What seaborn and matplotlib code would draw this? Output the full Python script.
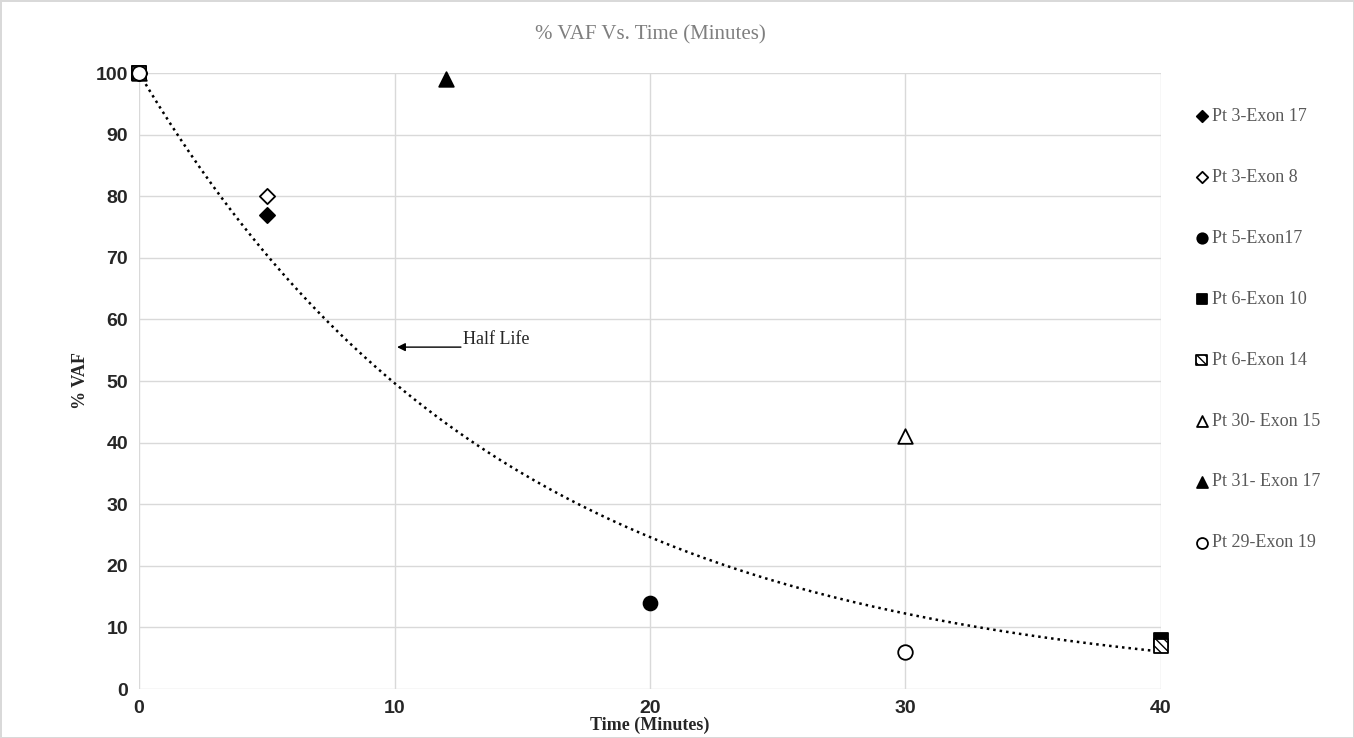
import numpy as np
import pandas as pd
import seaborn as sns
import matplotlib.pyplot as plt

# series
labels = ['Pt 3-Exon 17', 'Pt 3-Exon 8', 'Pt 5-Exon17', 'Pt 6-Exon 10',
          'Pt 6-Exon 14', 'Pt 30- Exon 15', 'Pt 31- Exon 17', 'Pt 29-Exon 19']
times = [[0, 5], [0, 5], [0, 20], [0, 40], [0, 40], [0, 30], [12], [0, 30]]
vaf = [[100, 77], [100, 80], [100, 14], [100, 8], [100, 7], [100, 41], [99], [100, 6]]

# exponential trendline y = a * exp(b * x)
trend_a = 100.0
trend_b = -0.0700

markers = ['D', 'D', 'o', 's', 's', '^', '^', 'o']
faces = ['black', 'white', 'black', 'black', 'white', 'white', 'black', 'white']
sizes = [60, 60, 100, 110, 110, 110, 110, 110]
hatches = [None, None, None, None, '\\\\\\\\', None, None, None]

rows = []
for lab, t, v in zip(labels, times, vaf):
    for ti, vi in zip(t, v):
        rows.append({'series': lab, 'time': ti, 'vaf': vi})
df = pd.DataFrame(rows)

sns.set_style('white')
plt.rcParams['font.family'] = ['Liberation Serif', 'DejaVu Serif']

fig = plt.figure(figsize=(13.54, 7.38), dpi=100)
fig.patch.set_edgecolor('#d9d9d9')
fig.patch.set_linewidth(2)
ax = fig.add_axes([139 / 1354, 1 - 689 / 738, (1161 - 139) / 1354, (689 - 73) / 738])

# trendline
xs = np.linspace(0, 40, 200)
sns.lineplot(x=xs, y=trend_a * np.exp(trend_b * xs), ax=ax, color='black',
             linestyle=(0, (1, 1.6)), linewidth=1.8, legend=False, zorder=2)

for i, lab in enumerate(labels):
    sub = df[df['series'] == lab]
    kw = {}
    if hatches[i]:
        kw['hatch'] = hatches[i]
    sns.scatterplot(data=sub, x='time', y='vaf', ax=ax, marker=markers[i],
                    color=faces[i], edgecolor='black', linewidth=1.3,
                    s=sizes[i], label=lab, zorder=3, clip_on=False, **kw)

ax.set_xlim(0, 40)
ax.set_ylim(0, 100)
ax.set_xticks(range(0, 41, 10))
ax.set_yticks(range(0, 101, 10))
ax.grid(True, color='#d9d9d9', linewidth=1)
for sp in ax.spines.values():
    sp.set_visible(False)
ax.tick_params(length=0, pad=8)
for tl in ax.get_xticklabels() + ax.get_yticklabels():
    tl.set_fontfamily('Liberation Sans')
    tl.set_fontweight('bold')
    tl.set_fontsize(14)

ax.set_xlabel('Time (Minutes)', fontsize=13, fontweight='bold', labelpad=0)
ax.set_ylabel('% VAF', fontsize=13, fontweight='bold', labelpad=5)
ax.set_title('% VAF Vs. Time (Minutes)', fontsize=15, color='#7f7f7f', pad=24)

# half life arrow
ax.annotate('', xy=(10.1, 55.5), xytext=(12.6, 55.5),
            arrowprops=dict(arrowstyle='-|>', color='black', lw=1,
                            mutation_scale=12, shrinkA=0, shrinkB=0))
ax.text(12.7, 56.8, 'Half Life', fontsize=13, va='center', ha='left')

leg = ax.legend(loc='upper left', bbox_to_anchor=(1189 / 1354, 1 - 101 / 738),
                bbox_transform=fig.transFigure, frameon=False, fontsize=13,
                labelspacing=2.43, handlelength=0.6, handletextpad=0.3,
                borderaxespad=0, markerscale=0.75)
for txt in leg.get_texts():
    txt.set_color('#595959')

fig.savefig('out.png', dpi=100)
